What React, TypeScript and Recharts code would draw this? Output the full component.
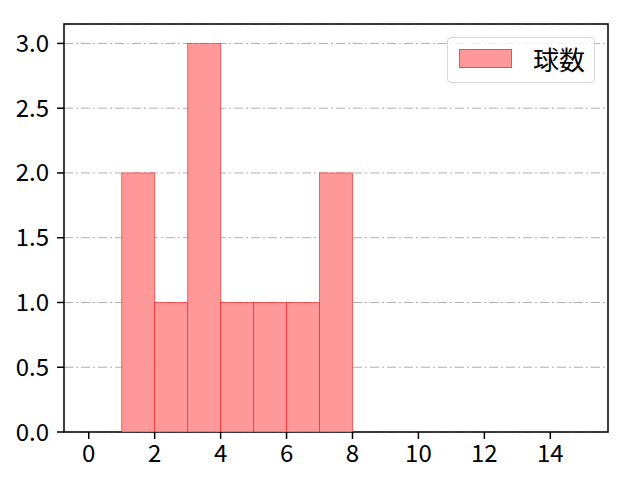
import React from 'react';
import { ComposedChart, Bar, XAxis, YAxis, CartesianGrid, Legend, ReferenceArea } from 'recharts';

const binStarts = [1, 2, 3, 4, 5, 6, 7];
const counts = [2, 1, 3, 1, 1, 1, 2];
const xTicks = [0, 2, 4, 6, 8, 10, 12, 14];
const yTicks = [0, 0.5, 1.0, 1.5, 2.0, 2.5, 3.0];
const xDomain = [-0.75, 15.75];
const yDomain = [0, 3.15];
const seriesName = '球数';

const data = binStarts.map((s, i) => ({ x: s + 0.5, count: counts[i] }));

const FONT = '"Noto Sans CJK JP", "Noto Sans", sans-serif';
const FILL = '#ff9999';
const EDGE = 'rgba(255,0,0,0.55)';
const FS = 24;
const FW = 400;

const LegendBox = () => (
  <div
    style={{
      position: 'absolute',
      left: 447,
      top: 37,
      width: 148,
      height: 46,
      boxSizing: 'border-box',
      border: '1px solid #d6d6d6',
      borderRadius: 4,
      background: 'rgba(255,255,255,0.8)',
      fontFamily: FONT,
    }}
  >
    <div
      style={{
        position: 'absolute',
        left: 11,
        top: 11,
        width: 53,
        height: 19,
        boxSizing: 'border-box',
        background: FILL,
        border: `1px solid ${EDGE}`,
      }}
    />
    <div
      style={{
        position: 'absolute',
        left: 85,
        top: 6,
        fontSize: 26,
        fontWeight: FW,
        lineHeight: '30px',
        color: '#000',
        whiteSpace: 'nowrap',
      }}
    >
      {seriesName}
    </div>
  </div>
);

export default function App() {
  return (
    <div style={{ position: 'absolute', left: 0, top: 0, width: 640, height: 480, background: '#fff' }}>
      <ComposedChart
        width={640}
        height={480}
        data={data}
        margin={{ top: 24, right: 32, bottom: 0, left: 0 }}
        barCategoryGap={0}
        barGap={0}
        style={{ fontFamily: FONT }}
      >
        <CartesianGrid
          horizontal
          vertical={false}
          stroke="#b0b0b0"
          strokeDasharray="9 3 2 3"
        />
        <XAxis
          type="number"
          dataKey="x"
          domain={xDomain}
          allowDataOverflow
          ticks={xTicks}
          interval={0}
          height={48}
          tickSize={7}
          tickMargin={6}
          axisLine={false}
          tickLine={{ stroke: '#000', strokeWidth: 1.5 }}
          tick={{ fill: '#000', fontSize: FS, fontFamily: FONT, fontWeight: FW }}
        />
        <YAxis
          type="number"
          domain={yDomain}
          allowDataOverflow
          ticks={yTicks}
          interval={0}
          width={64}
          tickSize={7}
          tickMargin={8}
          tickFormatter={(v: number) => v.toFixed(1)}
          axisLine={false}
          tickLine={{ stroke: '#000', strokeWidth: 1.5 }}
          tick={{ fill: '#000', fontSize: FS, fontFamily: FONT, fontWeight: FW }}
        />
        <Bar
          dataKey="count"
          name={seriesName}
          fill={FILL}
          stroke={EDGE}
          strokeWidth={1}
          isAnimationActive={false}
        />
        <ReferenceArea
          x1={xDomain[0]}
          x2={xDomain[1]}
          y1={yDomain[0]}
          y2={yDomain[1]}
          fill="none"
          fillOpacity={0}
          stroke="#000"
          strokeWidth={1.5}
          ifOverflow="visible"
        />
        <Legend content={() => <LegendBox />} wrapperStyle={{ position: 'absolute', left: 0, top: 0, width: 0, height: 0 }} />
      </ComposedChart>
    </div>
  );
}
